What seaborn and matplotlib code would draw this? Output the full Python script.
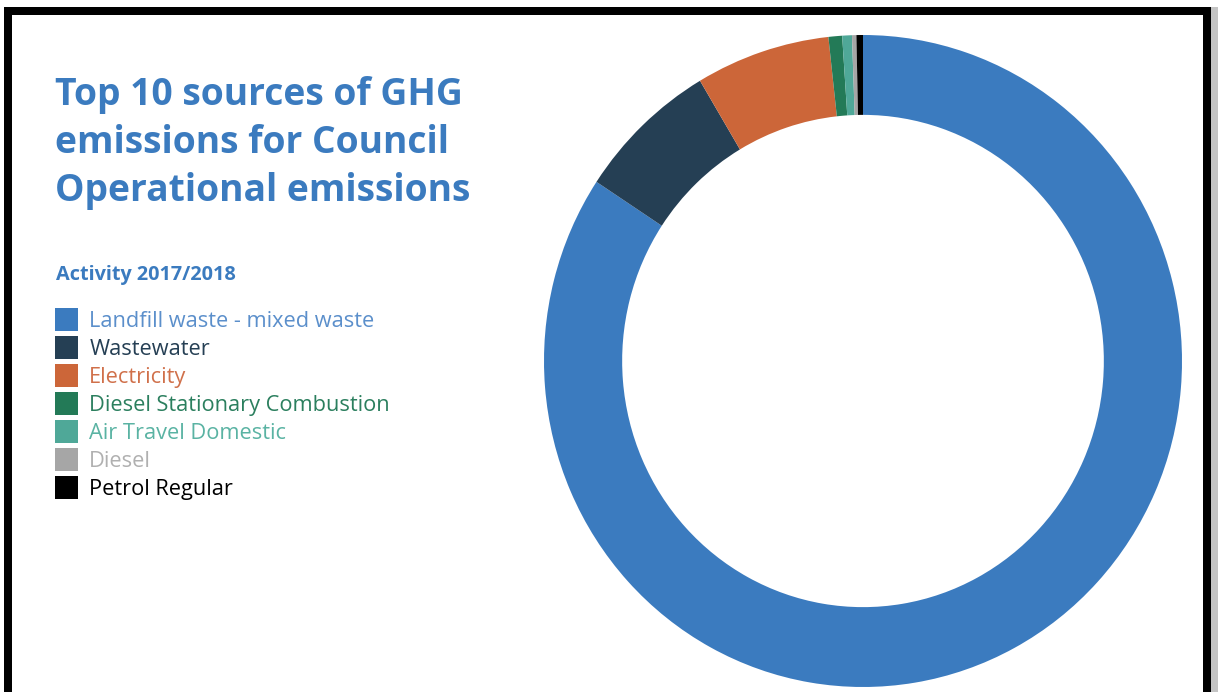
import matplotlib
matplotlib.use("Agg")
import matplotlib.pyplot as plt
from matplotlib.patches import Rectangle
import seaborn as sns

# ---- data ----
categories = [
    "Landfill waste - mixed waste",
    "Wastewater",
    "Electricity",
    "Diesel Stationary Combustion",
    "Air Travel Domestic",
    "Diesel",
    "Petrol Regular",
]
shares = [84.2, 7.2, 6.8, 0.69, 0.49, 0.22, 0.33]
slice_colors = ["#3b7bbf", "#253f54", "#cc6639", "#237a57", "#4fa898", "#a6a6a6", "#000000"]
label_colors = ["#5b8fcb", "#253f54", "#d0704a", "#2b7f5e", "#5ab3a3", "#b0b0b0", "#000000"]
title_lines = ["Top 10 sources of GHG", "emissions for Council", "Operational emissions"]
legend_title = "Activity 2017/2018"

sns.set_theme(style="white")
plt.rcParams["font.family"] = ["Open Sans", "DejaVu Sans"]

W, H = 1218, 692
fig = plt.figure(figsize=(W / 100, H / 100), dpi=100)
fig.patch.set_facecolor("white")

def px(x, y_top):
    return x / W, 1 - y_top / H

# donut axes: outer box 544..1182 horizontally, 35..687 vertically
ax = fig.add_axes([544 / W, (H - 687) / H, 638 / W, 652 / H])
palette = sns.color_palette(slice_colors)
wedges, _ = ax.pie(
    shares,
    colors=palette,
    startangle=90,
    counterclock=False,
    radius=1.0,
    wedgeprops=dict(width=0.245, linewidth=0),
)
ax.set_aspect("auto")
ax.set_xlim(-1, 1)
ax.set_ylim(-1, 1)
ax.axis("off")

# title (three lines at fixed baselines)
for line, base in zip(title_lines, [105, 153, 201]):
    tx, ty = px(55, base)
    fig.text(tx, ty, line, color="#3b7bbf", fontsize=26.8, fontweight="bold",
             va="baseline", ha="left")

# legend title
lx, ly = px(56, 280)
fig.text(lx, ly, legend_title, color="#3b7bbf", fontsize=14.3, fontweight="bold",
         va="baseline", ha="left")

# legend entries
bx, by = px(55, 308)
leg = fig.legend(
    handles=wedges, labels=categories, loc="upper left", bbox_to_anchor=(bx, by),
    frameon=False, fontsize=15.7, labelcolor=label_colors,
    handlelength=1.055, handleheight=1.25, handletextpad=0.52,
    labelspacing=0.19, borderpad=0, borderaxespad=0,
)

# frame border
fig.patches.append(Rectangle((8 / W, -0.1), (1206.5 - 8) / W, 1.1 - 11 / H,
                             transform=fig.transFigure, fill=False,
                             edgecolor="black", linewidth=8 * 0.72, zorder=10))
fig.patches.append(Rectangle((1210 / W, 0), 8 / W, 1 - 7 / H,
                             transform=fig.transFigure, facecolor="#c4c4c4",
                             edgecolor="none", zorder=9))

fig.savefig("out.png", dpi=100)
